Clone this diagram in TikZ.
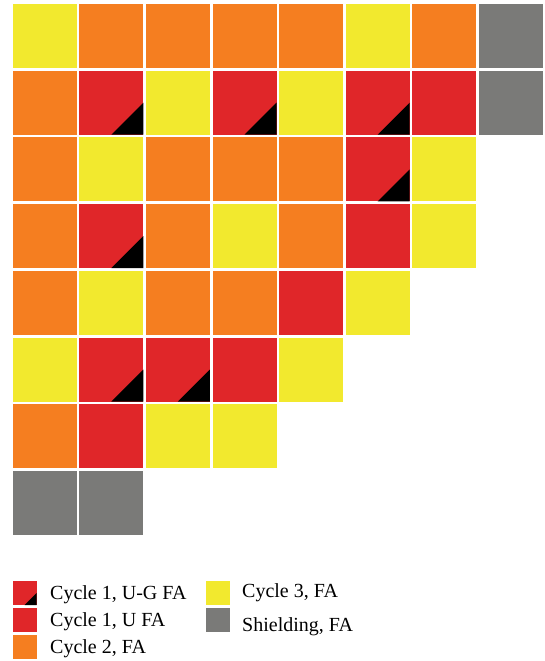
\documentclass[tikz,border=0pt]{standalone}
\usepackage{fontspec}
\setmainfont{Liberation Serif}
\definecolor{fy}{RGB}{242,233,46}
\definecolor{fo}{RGB}{245,126,32}
\definecolor{fr}{RGB}{224,38,41}
\definecolor{fg}{RGB}{122,122,120}
\begin{document}
\begin{tikzpicture}[x=1pt,y=-1pt,
  cell/.style={draw=none,minimum size=64pt,inner sep=0pt,outer sep=0pt,anchor=north west},
  key/.style={draw=none,minimum size=24pt,inner sep=0pt,outer sep=0pt,anchor=north west},
  tri/.style={path picture={\fill[black] (path picture bounding box.south) -- (path picture bounding box.south east) -- (path picture bounding box.east) -- cycle;}},
  cY/.style={fill=fy}, cO/.style={fill=fo}, cR/.style={fill=fr},
  cB/.style={fill=fr,tri}, cG/.style={fill=fg},
  lab/.style={anchor=base west,inner sep=0pt,font=\fontsize{20}{24}\selectfont}]
\useasboundingbox (0,0) rectangle (544,661);
\foreach \r/\row in {1/{cY,cO,cO,cO,cO,cY,cO,cG},
                     2/{cO,cB,cY,cB,cY,cB,cR,cG},
                     3/{cO,cY,cO,cO,cO,cB,cY},
                     4/{cO,cB,cO,cY,cO,cR,cY},
                     5/{cO,cY,cO,cO,cR,cY},
                     6/{cY,cB,cB,cR,cY},
                     7/{cO,cR,cY,cY},
                     8/{cG,cG}}{
  \foreach \t [count=\c] in \row {
    \node[cell,\t] (c-\r-\c) at ({12.7+(\c-1)*66.6},{4+(\r-1)*66.7}) {};
  }
}
% legend
\node[key,cB] (k1) at (12.7,581) {};
\node[key,cR] (k2) at (12.7,608) {};
\node[key,cO] (k3) at (12.7,635) {};
\node[key,cY] (k4) at (206,581) {};
\node[key,cG] (k5) at (206,608) {};
\node[lab] (t1) at (50,599.3) {Cycle 1, U-G FA};
\node[lab] (t2) at (50,626.7) {Cycle 1, U FA};
\node[lab] (t3) at (50,653.3) {Cycle 2, FA};
\node[lab] (t4) at (242,597.3) {Cycle 3, FA};
\node[lab] (t5) at (242,631.7) {Shielding, FA};
\end{tikzpicture}
\end{document}
